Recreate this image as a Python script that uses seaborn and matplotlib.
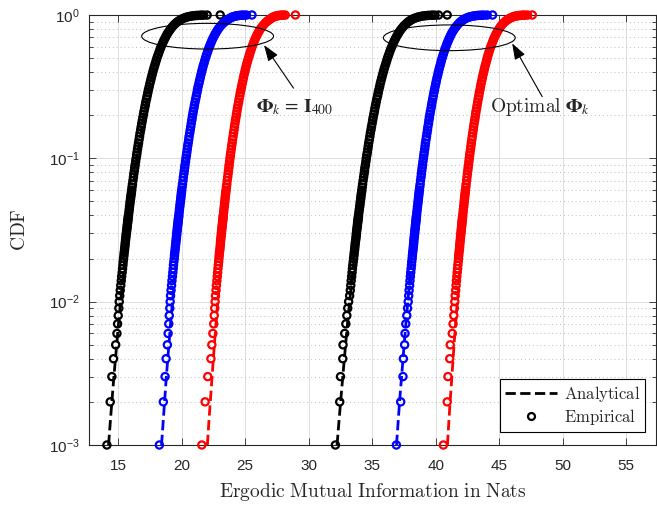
import numpy as np
import pandas as pd
import matplotlib
matplotlib.use('Agg')
import matplotlib.pyplot as plt
import seaborn as sns
from matplotlib.patches import Ellipse
from matplotlib.lines import Line2D

# CDF levels of the plotted empirical samples
cdf_emp = [0.001, 0.002, 0.003, 0.004, 0.005, 0.006, 0.007, 0.008, 0.009, 0.010,
           0.011, 0.012, 0.013, 0.014, 0.015, 0.016, 0.017, 0.018, 0.019, 0.020,
           0.021, 0.022, 0.023, 0.024, 0.025, 0.026, 0.027, 0.028, 0.029, 0.030,
           0.031, 0.032, 0.033, 0.034, 0.035, 0.036, 0.037, 0.038, 0.039, 0.040,
           0.042, 0.044, 0.046, 0.048, 0.050, 0.052, 0.054, 0.056, 0.058, 0.060,
           0.063, 0.066, 0.070, 0.074, 0.078, 0.082, 0.086, 0.090, 0.095, 0.100,
           0.105, 0.110, 0.116, 0.122, 0.128, 0.135, 0.142, 0.150, 0.158, 0.166,
           0.175, 0.184, 0.193, 0.203, 0.213, 0.224, 0.235, 0.247, 0.260, 0.273,
           0.287, 0.301, 0.316, 0.332, 0.348, 0.365, 0.383, 0.402, 0.421, 0.441,
           0.462, 0.484, 0.507, 0.530, 0.555, 0.580, 0.605, 0.630, 0.655, 0.680,
           0.705, 0.730, 0.755, 0.780, 0.805, 0.830, 0.855, 0.880, 0.900, 0.915,
           0.930, 0.943, 0.955, 0.965, 0.973, 0.980, 0.985, 0.989, 0.992, 0.994,
           0.996, 0.997, 0.998, 0.999, 1.000]

# empirical mutual information (nats), Phi_k = I_400
emp_black_1 = [14.11, 14.37, 14.50, 14.63, 14.80, 14.90, 14.95, 15.00, 15.05, 15.08,
               15.12, 15.16, 15.20, 15.24, 15.27, 15.31, 15.34, 15.37, 15.39, 15.42,
               15.45, 15.47, 15.50, 15.52, 15.54, 15.56, 15.58, 15.60, 15.62, 15.64,
               15.66, 15.68, 15.70, 15.71, 15.73, 15.75, 15.76, 15.78, 15.79, 15.81,
               15.84, 15.87, 15.89, 15.92, 15.94, 15.97, 15.99, 16.02, 16.04, 16.06,
               16.09, 16.12, 16.16, 16.20, 16.23, 16.27, 16.30, 16.33, 16.37, 16.41,
               16.45, 16.48, 16.52, 16.56, 16.60, 16.64, 16.68, 16.72, 16.77, 16.81,
               16.85, 16.90, 16.94, 16.99, 17.03, 17.08, 17.13, 17.17, 17.23, 17.28,
               17.33, 17.38, 17.44, 17.49, 17.55, 17.61, 17.67, 17.73, 17.79, 17.86,
               17.93, 18.00, 18.07, 18.15, 18.23, 18.31, 18.39, 18.48, 18.56, 18.65,
               18.74, 18.83, 18.93, 19.04, 19.15, 19.27, 19.40, 19.55, 19.69, 19.81,
               19.94, 20.07, 20.22, 20.37, 20.52, 20.68, 20.83, 20.98, 21.13, 21.27,
               21.45, 21.57, 21.73, 22.00, 23.03]
emp_blue_1 = [18.24, 18.55, 18.69, 18.77, 18.87, 18.93, 18.98, 19.02, 19.06, 19.09,
              19.12, 19.16, 19.20, 19.23, 19.27, 19.30, 19.33, 19.35, 19.38, 19.41,
              19.43, 19.45, 19.48, 19.50, 19.52, 19.54, 19.56, 19.58, 19.60, 19.61,
              19.63, 19.65, 19.66, 19.68, 19.70, 19.71, 19.73, 19.74, 19.76, 19.77,
              19.80, 19.82, 19.85, 19.87, 19.90, 19.92, 19.94, 19.96, 19.98, 20.00,
              20.03, 20.06, 20.10, 20.13, 20.17, 20.20, 20.23, 20.26, 20.30, 20.33,
              20.37, 20.40, 20.44, 20.47, 20.51, 20.55, 20.58, 20.63, 20.67, 20.71,
              20.75, 20.79, 20.83, 20.87, 20.91, 20.96, 21.00, 21.05, 21.10, 21.15,
              21.20, 21.24, 21.29, 21.35, 21.40, 21.46, 21.51, 21.57, 21.63, 21.69,
              21.76, 21.82, 21.89, 21.96, 22.04, 22.11, 22.19, 22.27, 22.35, 22.43,
              22.52, 22.61, 22.70, 22.80, 22.90, 23.02, 23.14, 23.28, 23.41, 23.52,
              23.64, 23.74, 23.85, 23.95, 24.05, 24.17, 24.27, 24.38, 24.49, 24.58,
              24.71, 24.79, 24.91, 25.10, 25.53]
emp_red_1 = [21.58, 21.84, 22.05, 22.30, 22.37, 22.45, 22.52, 22.56, 22.60, 22.63,
             22.66, 22.70, 22.73, 22.77, 22.80, 22.83, 22.85, 22.88, 22.91, 22.93,
             22.95, 22.97, 23.00, 23.02, 23.04, 23.05, 23.07, 23.09, 23.11, 23.12,
             23.14, 23.16, 23.17, 23.19, 23.20, 23.22, 23.23, 23.25, 23.26, 23.27,
             23.30, 23.32, 23.35, 23.37, 23.39, 23.41, 23.43, 23.45, 23.47, 23.49,
             23.52, 23.55, 23.58, 23.62, 23.65, 23.68, 23.71, 23.73, 23.77, 23.80,
             23.83, 23.86, 23.90, 23.93, 23.97, 24.00, 24.04, 24.08, 24.12, 24.15,
             24.19, 24.23, 24.27, 24.31, 24.35, 24.39, 24.43, 24.48, 24.52, 24.57,
             24.61, 24.66, 24.71, 24.76, 24.81, 24.86, 24.91, 24.97, 25.02, 25.08,
             25.14, 25.20, 25.27, 25.34, 25.41, 25.48, 25.55, 25.63, 25.70, 25.78,
             25.86, 25.94, 26.03, 26.12, 26.22, 26.33, 26.45, 26.58, 26.70, 26.80,
             26.92, 27.01, 27.09, 27.18, 27.27, 27.36, 27.45, 27.54, 27.63, 27.71,
             27.82, 27.89, 27.99, 28.15, 28.95]

# empirical mutual information (nats), optimal Phi_k
emp_black_2 = [32.10, 32.44, 32.50, 32.68, 32.70, 32.83, 32.92, 33.00, 33.07, 33.14,
               33.22, 33.27, 33.31, 33.34, 33.38, 33.41, 33.44, 33.47, 33.50, 33.53,
               33.56, 33.58, 33.61, 33.63, 33.65, 33.67, 33.70, 33.72, 33.74, 33.75,
               33.77, 33.79, 33.81, 33.83, 33.84, 33.86, 33.88, 33.89, 33.91, 33.92,
               33.95, 33.98, 34.01, 34.04, 34.06, 34.09, 34.11, 34.13, 34.16, 34.18,
               34.21, 34.24, 34.28, 34.32, 34.36, 34.39, 34.42, 34.46, 34.50, 34.53,
               34.57, 34.61, 34.65, 34.69, 34.72, 34.77, 34.81, 34.85, 34.90, 34.94,
               34.99, 35.03, 35.07, 35.12, 35.17, 35.21, 35.26, 35.31, 35.36, 35.42,
               35.47, 35.52, 35.58, 35.63, 35.69, 35.75, 35.81, 35.88, 35.94, 36.01,
               36.08, 36.15, 36.22, 36.30, 36.38, 36.46, 36.55, 36.63, 36.72, 36.81,
               36.90, 37.00, 37.10, 37.20, 37.32, 37.44, 37.58, 37.73, 37.87, 37.98,
               38.12, 38.25, 38.40, 38.56, 38.71, 38.87, 39.02, 39.18, 39.33, 39.47,
               39.65, 39.77, 39.94, 40.22, 40.90]
emp_blue_2 = [36.90, 37.24, 37.42, 37.45, 37.55, 37.58, 37.64, 37.72, 37.78, 37.83,
              37.87, 37.90, 37.94, 37.97, 38.00, 38.03, 38.06, 38.09, 38.11, 38.14,
              38.16, 38.18, 38.21, 38.23, 38.25, 38.27, 38.28, 38.30, 38.32, 38.34,
              38.35, 38.37, 38.39, 38.40, 38.42, 38.43, 38.45, 38.46, 38.47, 38.49,
              38.51, 38.54, 38.56, 38.59, 38.61, 38.63, 38.65, 38.67, 38.69, 38.71,
              38.74, 38.77, 38.80, 38.84, 38.87, 38.90, 38.93, 38.96, 38.99, 39.03,
              39.06, 39.09, 39.13, 39.16, 39.19, 39.23, 39.27, 39.31, 39.35, 39.38,
              39.43, 39.46, 39.50, 39.54, 39.58, 39.63, 39.67, 39.71, 39.76, 39.81,
              39.85, 39.90, 39.95, 40.00, 40.05, 40.10, 40.16, 40.21, 40.27, 40.33,
              40.39, 40.45, 40.52, 40.59, 40.66, 40.73, 40.81, 40.88, 40.96, 41.04,
              41.12, 41.20, 41.29, 41.39, 41.49, 41.60, 41.72, 41.85, 41.97, 42.08,
              42.20, 42.32, 42.45, 42.58, 42.72, 42.86, 43.00, 43.13, 43.27, 43.39,
              43.55, 43.66, 43.81, 44.05, 44.47]
emp_red_2 = [40.60, 40.90, 40.96, 41.10, 41.14, 41.30, 41.36, 41.42, 41.46, 41.50,
             41.53, 41.57, 41.60, 41.63, 41.66, 41.69, 41.72, 41.74, 41.77, 41.79,
             41.81, 41.83, 41.86, 41.88, 41.89, 41.91, 41.93, 41.95, 41.96, 41.98,
             42.00, 42.01, 42.03, 42.04, 42.06, 42.07, 42.08, 42.10, 42.11, 42.12,
             42.15, 42.17, 42.20, 42.22, 42.24, 42.26, 42.28, 42.30, 42.32, 42.34,
             42.37, 42.39, 42.43, 42.46, 42.49, 42.52, 42.55, 42.58, 42.61, 42.64,
             42.67, 42.70, 42.74, 42.77, 42.80, 42.84, 42.87, 42.91, 42.95, 42.98,
             43.02, 43.06, 43.10, 43.14, 43.17, 43.22, 43.26, 43.30, 43.34, 43.39,
             43.43, 43.48, 43.52, 43.57, 43.62, 43.67, 43.72, 43.78, 43.83, 43.89,
             43.95, 44.01, 44.07, 44.13, 44.20, 44.27, 44.34, 44.42, 44.49, 44.56,
             44.64, 44.72, 44.81, 44.90, 45.00, 45.10, 45.21, 45.34, 45.46, 45.56,
             45.67, 45.78, 45.89, 46.00, 46.11, 46.23, 46.35, 46.46, 46.58, 46.67,
             46.81, 46.90, 47.03, 47.23, 47.60]

# analytical CDF curves
cdf_ana = [0.001, 0.0015, 0.002, 0.003, 0.005, 0.007, 0.01, 0.015, 0.02, 0.03,
           0.05, 0.07, 0.1, 0.15, 0.2, 0.3, 0.4, 0.5, 0.6, 0.7,
           0.8, 0.9, 0.95, 0.98, 0.99, 0.995, 0.999]
ana_black_1 = [14.24, 14.39, 14.50, 14.66, 14.88, 15.02, 15.19, 15.38, 15.52, 15.74,
               16.03, 16.24, 16.48, 16.79, 17.03, 17.42, 17.76, 18.07, 18.38, 18.72,
               19.11, 19.66, 20.11, 20.62, 20.95, 21.26, 21.90]
ana_blue_1 = [18.41, 18.55, 18.65, 18.79, 18.99, 19.12, 19.27, 19.45, 19.58, 19.77,
              20.04, 20.23, 20.45, 20.73, 20.95, 21.31, 21.61, 21.90, 22.19, 22.49,
              22.85, 23.35, 23.76, 24.22, 24.53, 24.81, 25.10]
ana_red_1 = [22.02, 22.15, 22.25, 22.39, 22.57, 22.70, 22.83, 23.00, 23.12, 23.31,
             23.56, 23.74, 23.94, 24.20, 24.41, 24.74, 25.03, 25.30, 25.57, 25.86,
             26.19, 26.66, 27.04, 27.48, 27.77, 28.00, 28.15]
ana_black_2 = [32.23, 32.39, 32.51, 32.68, 32.90, 33.05, 33.22, 33.42, 33.57, 33.79,
               34.10, 34.32, 34.57, 34.88, 35.13, 35.54, 35.89, 36.22, 36.55, 36.90,
               37.31, 37.87, 38.34, 38.87, 39.22, 39.54, 40.21]
ana_blue_2 = [36.91, 37.05, 37.15, 37.31, 37.51, 37.65, 37.80, 37.98, 38.12, 38.32,
              38.60, 38.79, 39.02, 39.31, 39.54, 39.91, 40.22, 40.52, 40.82, 41.13,
              41.51, 42.02, 42.44, 42.92, 43.24, 43.53, 44.05]
ana_red_2 = [40.92, 41.04, 41.13, 41.27, 41.44, 41.56, 41.70, 41.86, 41.97, 42.15,
             42.39, 42.56, 42.76, 43.01, 43.21, 43.54, 43.81, 44.07, 44.33, 44.60,
             44.93, 45.38, 45.75, 46.16, 46.44, 46.70, 47.22]

x_ticks = [15, 20, 25, 30, 35, 40, 45, 50, 55]
y_ticks = [1e-3, 1e-2, 1e-1, 1e0]
y_tick_labels = [r'$10^{-3}$', r'$10^{-2}$', r'$10^{-1}$', r'$10^{0}$']

sns.set_style('ticks')
plt.rcParams['font.family'] = ['Liberation Sans', 'DejaVu Sans']
plt.rcParams['mathtext.fontset'] = 'custom'
plt.rcParams['mathtext.rm'] = 'Liberation Sans'
plt.rcParams['mathtext.it'] = 'Liberation Sans:italic'
plt.rcParams['mathtext.bf'] = 'Liberation Sans:bold'

fig = plt.figure(figsize=(6.57, 5.07), dpi=100)
ax = fig.add_axes([89 / 657, 62 / 507, 566.5 / 657, 430 / 507])

curves = [
    (emp_black_1, ana_black_1, 'k'),
    (emp_blue_1, ana_blue_1, 'b'),
    (emp_red_1, ana_red_1, 'r'),
    (emp_black_2, ana_black_2, 'k'),
    (emp_blue_2, ana_blue_2, 'b'),
    (emp_red_2, ana_red_2, 'r'),
]

for emp, ana, col in curves:
    df_emp = pd.DataFrame({'mi': emp, 'cdf': cdf_emp})
    df_ana = pd.DataFrame({'mi': ana, 'cdf': cdf_ana})
    sns.scatterplot(data=df_emp, x='mi', y='cdf', ax=ax, marker='o', s=27,
                    color=col, facecolor='none', edgecolor=col, linewidth=1.6,
                    clip_on=False, zorder=3)
    sns.lineplot(data=df_ana, x='mi', y='cdf', ax=ax, color=col, lw=2,
                 linestyle='--', sort=False, estimator=None, zorder=4)

ax.set_yscale('log')
ax.set_xlim(12.7, 57.3)
ax.set_ylim(1e-3, 1)
ax.set_xticks(x_ticks)
ax.set_yticks(y_ticks)
ax.set_yticklabels(y_tick_labels)

# grid in MATLAB style
ax.grid(True, which='major', color='#dedede', lw=0.7, ls='-')
ax.grid(True, which='minor', axis='y', color='#bdbdbd', lw=0.7, ls=(0, (1, 3)))
ax.set_axisbelow(True)

for sp in ax.spines.values():
    sp.set_visible(True)
    sp.set_color('#262626')
    sp.set_linewidth(0.8)
ax.tick_params(which='both', direction='in', top=True, right=True,
               colors='#262626', labelsize=11, width=0.6)
ax.tick_params(which='major', length=5)
ax.tick_params(which='minor', length=3)
ax.tick_params(axis='x', pad=10)
ax.tick_params(axis='y', pad=7)

ax.set_xlabel(r'$\mathrm{Ergodic\ Mutual\ Information\ in\ Nats}$', fontsize=14,
              math_fontfamily='cm', labelpad=6)
ax.set_ylabel(r'$\mathrm{CDF}$', fontsize=14, math_fontfamily='cm', labelpad=14)

# ellipses and arrows marking the two groups
ax.add_patch(Ellipse((0.2094, 0.9507), 0.2327, 0.0598, transform=ax.transAxes,
                     fill=False, ec='k', lw=0.8, zorder=5))
ax.add_patch(Ellipse((0.6360, 0.9470), 0.2327, 0.0598, transform=ax.transAxes,
                     fill=False, ec='k', lw=0.8, zorder=5))
arrow = dict(arrowstyle='-|>,head_length=0.7,head_width=0.25', color='k', lw=0.8,
             mutation_scale=14, shrinkA=0, shrinkB=0)
ax.annotate('', xy=(0.309, 0.930), xytext=(0.361, 0.830), xycoords='axes fraction',
            arrowprops=arrow, zorder=6)
ax.annotate('', xy=(0.747, 0.934), xytext=(0.800, 0.810), xycoords='axes fraction',
            arrowprops=arrow, zorder=6)
ax.text(0.3634, 0.774, r'$\mathbf{\Phi}_k\,=\,\mathbf{I}_{400}$', transform=ax.transAxes,
        ha='center', va='baseline', fontsize=14, math_fontfamily='stix', zorder=6)
ax.text(0.834, 0.774, r'$\mathrm{Optimal}$', transform=ax.transAxes,
        ha='right', va='baseline', fontsize=14, math_fontfamily='cm', zorder=6)
ax.text(0.841, 0.774, r'$\mathbf{\Phi}_k$', transform=ax.transAxes,
        ha='left', va='baseline', fontsize=14, math_fontfamily='stix', zorder=6)

handles = [Line2D([], [], color='k', ls='--', lw=2),
           Line2D([], [], color='k', ls='none', marker='o', mfc='none', mew=1.6, ms=5)]
leg = ax.legend(handles, [r'$\mathrm{Analytical}$', r'$\mathrm{Empirical}$'],
                loc='lower right', bbox_to_anchor=(0.982, 0.030), borderaxespad=0,
                fontsize=12, frameon=True, fancybox=False, edgecolor='k',
                framealpha=1, handlelength=3.1, borderpad=0.3, labelspacing=0.2,
                handletextpad=0.4)
leg.get_frame().set_linewidth(0.8)
for t in leg.get_texts():
    t.set_math_fontfamily('cm')

fig.savefig('out.png', dpi=100)
plt.close()
